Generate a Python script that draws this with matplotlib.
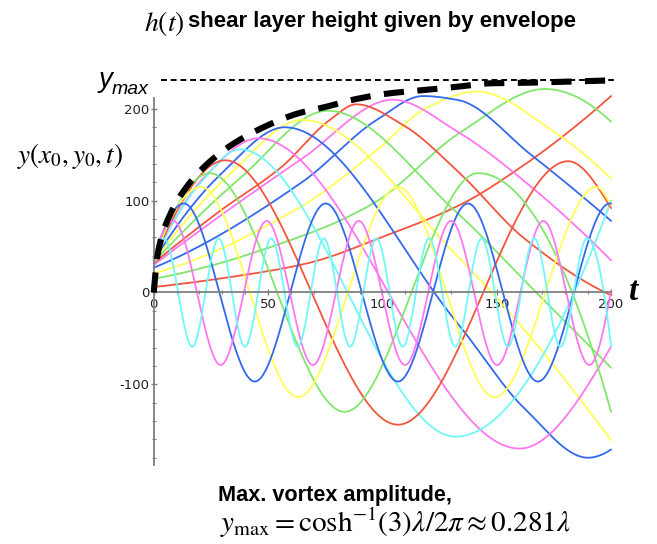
import numpy as np
import matplotlib
matplotlib.use("Agg")
import matplotlib.pyplot as plt

# ---------------- data (knots: (t, y)) ----------------
cyan_1 = [(0, 38), (4.5, 59), (16.9, -59), (28.4, 59), (39.9, -59), (51.4, 59), (62.9, -59),
          (74.4, 59), (85.9, -59), (97.4, 59), (108.9, -59), (120.4, 59), (131.9, -59),
          (143.4, 59), (154.9, -59), (166.4, 59), (177.9, -59), (189.4, 59), (200, -59)]
magenta_1 = [(0, 37.5), (8.6, 78), (29.3, -79), (49.4, 78), (69.6, -79), (89.7, 78), (109.9, -79),
             (130.0, 78), (150.2, -79), (170.4, 78), (190.5, -79), (200, 2)]
blue_1 = [(0, 37.5), (13.2, 97), (44.2, -97), (75.2, 97), (106.8, -97), (137.4, 97), (168.0, -97),
          (199.4, 97), (200, 96.9)]
yellow_1 = [(0, 37), (20.8, 115), (63.1, -114), (106.8, 115), (149.1, -114), (193.5, 115), (200, 95)]
green_1 = [(0, 37), (24.5, 130), (83.5, -130), (141.8, 130), (200, -130)]
red_1 = [(0, 36.5), (31.3, 144), (106.8, -144), (181.2, 143), (200, 92)]
cyan_2 = [(0, 36), (20, 118), (37.7, 156), (132.0, -157), (200, 100)]
magenta_2 = [(0, 35.5), (23, 128), (45.6, 168), (160.0, -170), (200, -59)]
blue_2 = [(0, 35), (29, 128), (57.3, 180), (133, -34), (162, -126), (189.9, -180), (200, -171)]
yellow_2 = [(0, 34), (33, 128), (65, 188), (133, 39), (200, -161)]
green_2 = [(0, 33), (38, 125), (76, 198), (133, 86), (163.7, 9), (200, -82)]
red_2 = [(0, 32), (28, 87), (56, 137), (77, 188), (88.6, 205), (109, 182.5), (133, 132), (162, 59), (200, -3)]
magenta_3 = [(0, 30), (65, 146), (104.6, 210), (133, 175), (162.2, 121), (200, 35)]
blue_3 = [(0, 27), (65.3, 121), (97.5, 188), (117.8, 214), (133, 209.7), (165, 150), (200, 78)]
yellow_3 = [(0, 21), (65.3, 95), (97.5, 155), (120, 202), (141, 219), (176.8, 172), (200, 124)]
green_3 = [(0, 15), (65.3, 62), (96, 97), (135, 176), (171, 221.7), (200, 186)]
red_3 = [(0, 6), (34, 17), (67.5, 32), (100.3, 60.8), (135.2, 97), (162, 139), (176.8, 166), (200, 214)]

envelope = [(0, 0), (1.9, 44), (7, 84), (15, 117), (23.7, 140.7), (34, 160.7), (48.5, 180.6),
            (63, 195), (75.5, 202.4), (88.6, 210.8), (103.2, 217), (118.5, 220.6), (132.3, 224),
            (147.5, 227.9), (163, 228.5), (176.8, 229.4), (191, 230.5), (200, 231)]
y_max_level = 231.5

x_ticks = [0, 50, 100, 150, 200]
y_ticks = [-100, 0, 100, 200]

curves = [
    (red_3, "r"), (green_3, "g"), (yellow_3, "y"), (blue_3, "b"), (magenta_3, "m"),
    (red_2, "r"), (green_2, "g"), (yellow_2, "y"), (blue_2, "b"), (magenta_2, "m"), (cyan_2, "c"),
    (red_1, "r"), (green_1, "g"), (yellow_1, "y"), (blue_1, "b"), (magenta_1, "m"), (cyan_1, "c"),
]
palette = {"r": "#f4553d", "g": "#80e66c", "y": "#ffff55", "b": "#3468ee",
           "m": "#ff77ee", "c": "#70f7f7"}


def pchip(xk, yk, xs):
    xk = np.asarray(xk, float)
    yk = np.asarray(yk, float)
    h = np.diff(xk)
    d = np.diff(yk) / h
    n = len(xk)
    m = np.zeros(n)
    for i in range(1, n - 1):
        if d[i - 1] * d[i] <= 0:
            m[i] = 0.0
        else:
            w1 = 2 * h[i] + h[i - 1]
            w2 = h[i] + 2 * h[i - 1]
            m[i] = (w1 + w2) / (w1 / d[i - 1] + w2 / d[i])

    def end(h0, h1, d0, d1):
        s = ((2 * h0 + h1) * d0 - h0 * d1) / (h0 + h1)
        if np.sign(s) != np.sign(d0):
            s = 0.0
        elif np.sign(d0) != np.sign(d1) and abs(s) > abs(3 * d0):
            s = 3 * d0
        return s

    if n > 2:
        m[0] = end(h[0], h[1], d[0], d[1])
        m[-1] = end(h[-1], h[-2], d[-1], d[-2])
    else:
        m[0] = m[-1] = d[0]
    idx = np.clip(np.searchsorted(xk, xs) - 1, 0, n - 2)
    s = (xs - xk[idx]) / h[idx]
    h00 = 2 * s**3 - 3 * s**2 + 1
    h10 = s**3 - 2 * s**2 + s
    h01 = -2 * s**3 + 3 * s**2
    h11 = s**3 - s**2
    return h00 * yk[idx] + h10 * h[idx] * m[idx] + h01 * yk[idx + 1] + h11 * h[idx] * m[idx + 1]


plt.rcParams["mathtext.fontset"] = "stix"
W, H = 657, 544
fig = plt.figure(figsize=(W / 100, H / 100), dpi=100)

# axes placement in pixels: t=0 -> x 153.7, 2.287 px/unit ; y=0 -> y 292.5, 0.918 px/unit
xlo, xhi, ylo, yhi = 0, 205, -190, 240
x0p, sx, y0p, sy = 153.7, 2.287, 292.5, 0.918
left = (x0p + xlo * sx) / W
width = (xhi - xlo) * sx / W
top_px = y0p - yhi * sy
height = (yhi - ylo) * sy / H
bottom = 1 - (top_px / H) - height
ax = fig.add_axes([left, bottom, width, height])
ax.set_xlim(xlo, xhi)
ax.set_ylim(ylo, yhi)

ts = np.linspace(0, 200, 1601)
for knots, col in curves:
    kt = [p[0] for p in knots]
    ky = [p[1] for p in knots]
    ax.plot(ts, pchip(kt, ky, ts), color=palette[col], lw=1.3, solid_capstyle="round", clip_on=False, zorder=2)

et = [p[0] for p in envelope]
ey = [p[1] for p in envelope]
tt = np.linspace(0, 200, 800)
ax.plot(tt, pchip(et, ey, tt), color="black", lw=4.4, dashes=(3.3, 2.2), clip_on=False, zorder=4)
ax.plot([3, 201.5], [y_max_level, y_max_level], color="black", lw=1.4, dashes=(3, 2), clip_on=False, zorder=4)

# axes styling (Maple-like axes crossing at origin)
for s in ["top", "right"]:
    ax.spines[s].set_visible(False)
ax.spines["left"].set_position(("data", 0))
ax.spines["bottom"].set_position(("data", 0))
ax.spines["left"].set_bounds(-188, 212)
ax.spines["bottom"].set_bounds(0, 200)
for s in ["left", "bottom"]:
    ax.spines[s].set_color("#808080")
    ax.spines[s].set_linewidth(1.3)
ax.set_xticks(x_ticks)
ax.set_xticks(np.arange(0, 201, 10), minor=True)
ax.set_yticks(y_ticks)
ax.set_yticks(np.arange(-180, 211, 20), minor=True)
ax.set_xticklabels([str(v) for v in x_ticks])
ax.set_yticklabels([str(v) for v in y_ticks])
ax.tick_params(axis="both", which="major", length=4, width=1, color="#808080", labelsize=9.5,
               labelcolor="#222222", direction="inout")
ax.tick_params(axis="both", which="minor", length=3, width=0.8, color="#808080", direction="inout")
ax.tick_params(axis="x", pad=2)
ax.tick_params(axis="y", pad=1)
ax.patch.set_alpha(0)

# texts
fig.text(144 / W, 1 - 23 / H, r"$h(t)$", fontsize=20, va="center", ha="left")
fig.text(188 / W, 1 - 22 / H, "shear layer height given by envelope", fontsize=16, fontweight="bold",
         family="Liberation Sans", va="center", ha="left")
fig.text(99 / W, 1 - 80 / H, "y", fontsize=20, style="italic", family="Liberation Sans", va="center", ha="left")
fig.text(112 / W, 1 - 89 / H, "max", fontsize=14, style="italic", family="Liberation Sans", va="center", ha="left")
fig.text(17 / W, 1 - 156 / H, r"$y(x_0,y_0,t)$", fontsize=19.5, va="center", ha="left")
fig.text(629 / W, 1 - 292 / H, "t", fontsize=24, style="italic", fontweight="bold",
         family="Liberation Serif", va="center", ha="left")
fig.text(335 / W, 1 - 496 / H, "Max. vortex amplitude,", fontsize=15.6, fontweight="bold",
         family="Liberation Sans", va="center", ha="center")
fig.text(395 / W, 1 - 523 / H, r"$y_{\mathrm{max}} = \mathrm{cosh}^{-1}(3)\lambda/2\pi \approx 0.281\lambda$",
         fontsize=21, va="center", ha="center")

fig.savefig("out.png", dpi=100)
